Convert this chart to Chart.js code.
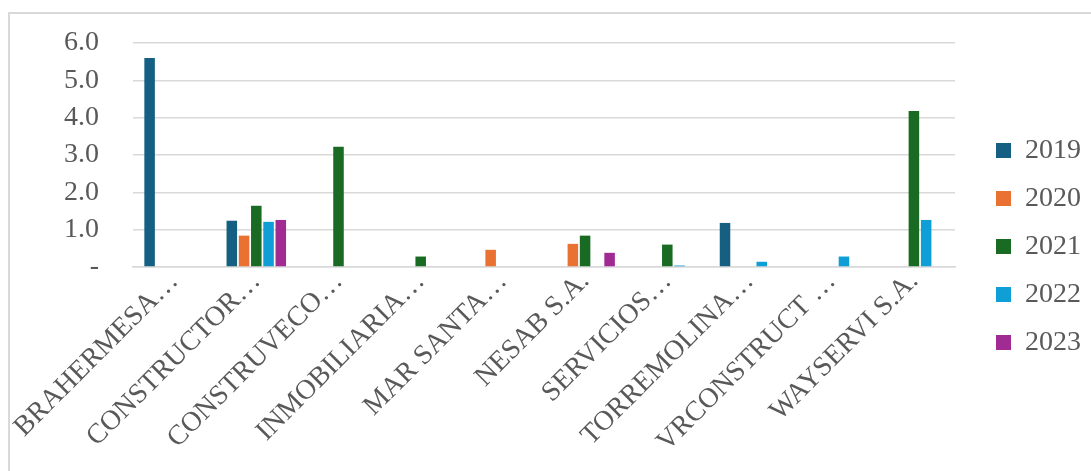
<!DOCTYPE html>
<html>
<head>
<meta charset="utf-8">
<script src="https://cdn.jsdelivr.net/npm/chart.js@4/dist/chart.umd.min.js"></script>
<style>
  html, body { margin: 0; padding: 0; background: #fff; overflow: hidden; }
  .frame {
    position: absolute; left: 8px; top: 12px;
    width: 1083px; height: 459px;
    border-left: 2px solid #d9d9d9; border-top: 2px solid #d9d9d9;
  }
  .frame canvas { display: block; }
</style>
</head>
<body>
<div class="frame">
  <canvas id="barChart" width="1081" height="457"></canvas>
</div>
<script>
// datos
const empresas = ['BRAHERMESA…', 'CONSTRUCTOR…', 'CONSTRUVECO…', 'INMOBILIARIA…', 'MAR SANTA…',
  'NESAB S.A.', 'SERVICIOS…', 'TORREMOLINA…', 'VRCONSTRUCT …', 'WAYSERVI S.A.'];
const anios = ['2019', '2020', '2021', '2022', '2023'];
const v2019 = [5.60, 1.24, 0, 0, 0, 0, 0, 1.18, 0, 0];
const v2020 = [0, 0.84, 0, 0, 0.46, 0.62, 0, 0, 0, 0];
const v2021 = [0, 1.64, 3.22, 0.28, 0, 0.84, 0.60, 0, 0, 4.18];
const v2022 = [0, 1.21, 0, 0, 0, 0, 0.04, 0.14, 0.28, 1.26];
const v2023 = [0, 1.26, 0, 0, 0, 0.38, 0, 0, 0, 0];
const yTickLabels = ['-', '1.0', '2.0', '3.0', '4.0', '5.0', '6.0'];

const colores = ['#156082', '#E97132', '#196B24', '#0F9ED5', '#A02B93'];
const series = [v2019, v2020, v2021, v2022, v2023];
const fuente = "'Liberation Serif', 'Times New Roman', serif";

const ctx = document.getElementById('barChart').getContext('2d');
new Chart(ctx, {
  type: 'bar',
  data: {
    labels: empresas,
    datasets: series.map((vals, i) => ({
      label: anios[i],
      data: vals,
      backgroundColor: colores[i],
      borderWidth: 0,
      categoryPercentage: 0.745,
      barPercentage: 0.86
    }))
  },
  options: {
    responsive: false,
    animation: false,
    layout: { padding: { top: 8, right: 0, bottom: 0, left: 0 } },
    plugins: {
      tooltip: { enabled: false },
      legend: {
        position: 'right',
        labels: {
          boxWidth: 15,
          boxHeight: 15,
          padding: 20,
          color: '#595959',
          font: { family: fuente, size: 28 }
        }
      }
    },
    scales: {
      x: {
        grid: { display: false, drawTicks: false },
        border: { color: '#d9d9d9', width: 1.5 },
        ticks: {
          autoSkip: false,
          maxRotation: 45,
          minRotation: 45,
          padding: 0,
          color: '#595959',
          font: { family: fuente, size: 28, lineHeight: 1 }
        },
        afterFit: (s) => { s.height = 204; }
      },
      y: {
        min: 0,
        max: 6,
        grid: { color: '#d9d9d9', lineWidth: 1.5, drawTicks: false },
        border: { display: false },
        ticks: {
          stepSize: 1,
          padding: 34,
          color: '#595959',
          font: { family: fuente, size: 28, lineHeight: 1 },
          callback: (value) => yTickLabels[Math.round(value)]
        },
        afterFit: (s) => {
          s.width = 123;
          s.paddingTop = 29; // margen superior del area de trazado
          s.paddingBottom = 0;
        }
      },
      hueco: {
        position: 'right',
        grid: { display: false, drawTicks: false },
        border: { display: false },
        ticks: { display: false },
        afterFit: (s) => { s.width = 21; }
      }
    }
  }
});
</script>
</body>
</html>
